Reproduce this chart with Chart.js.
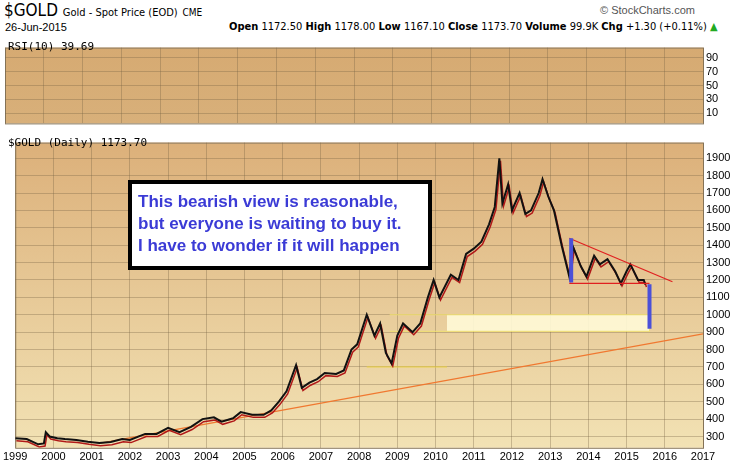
<!DOCTYPE html>
<html><head><meta charset="utf-8">
<script src="https://cdn.jsdelivr.net/npm/chart.js@4"></script>
<style>
body{margin:0;width:741px;height:467px;background:#fff;font-family:"Liberation Sans",Arial,sans-serif;position:relative;overflow:hidden}
.t{position:absolute;white-space:nowrap;color:#000}
#rsi{position:absolute;left:0;top:38px}
#price{position:absolute;left:0;top:133px}
</style></head><body>
<div class="t" style="left:4px;top:0px;font-size:17px;font-family:'DejaVu Sans Condensed'">$GOLD <span style="font-size:11px">Gold - Spot Price (EOD)</span> <span style="font-size:10px">CME</span></div>
<div class="t" style="left:5px;top:21px;font-size:11px">26-Jun-2015</div>
<div class="t" style="left:600px;top:4px;font-size:11px;color:#555">© StockCharts.com</div>
<div class="t" style="left:229px;top:20px;font-size:11px;font-family:'DejaVu Sans Condensed'"><b>Open</b> 1172.50 <b>High</b> 1178.00 <b>Low</b> 1167.10 <b>Close</b> 1173.70 <b>Volume</b> 99.9K <b>Chg</b> +1.30 (+0.11%) <span style="color:#2a2">▲</span></div>
<div class="t" style="left:8px;top:40px;font-size:11px;z-index:2;font-family:'DejaVu Sans Mono'">RSI(10) 39.69</div>
<div class="t" style="left:8px;top:136px;font-size:11px;z-index:2;font-family:'DejaVu Sans Mono'">$GOLD (Daily) 1173.70</div>
<canvas id="rsi" width="741" height="95"></canvas>
<canvas id="price" width="741" height="334"></canvas>
<script>
const years = [1999,2000,2001,2002,2003,2004,2005,2006,2007,2008,2009,2010,2011,2012,2013,2014,2015,2016,2017];
const rsiTicks = [10,30,50,70,90];
const priceTicks = [300,400,500,600,700,800,900,1000,1100,1200,1300,1400,1500,1600,1700,1800,1900];
const goldDates = [1999.0,1999.3,1999.6,1999.75,1999.8,1999.9,2000.1,2000.3,2000.6,2000.9,2001.2,2001.5,2001.8,2002.0,2002.4,2002.7,2003.0,2003.3,2003.6,2003.9,2004.2,2004.4,2004.7,2004.9,2005.2,2005.5,2005.7,2005.9,2006.1,2006.35,2006.5,2006.7,2006.9,2007.1,2007.4,2007.6,2007.8,2007.95,2008.2,2008.4,2008.55,2008.7,2008.85,2009.0,2009.15,2009.4,2009.6,2009.8,2009.95,2010.1,2010.4,2010.6,2010.8,2011.0,2011.2,2011.4,2011.55,2011.67,2011.75,2011.9,2012.0,2012.2,2012.35,2012.5,2012.7,2012.8,2012.95,2013.1,2013.3,2013.5,2013.6,2013.8,2013.95,2014.15,2014.3,2014.5,2014.7,2014.85,2015.0,2015.1,2015.3,2015.45,2015.49];
const goldClose = [290,285,255,260,325,300,290,285,280,270,262,268,285,280,315,315,350,325,355,400,410,385,405,440,425,425,450,500,560,710,580,610,630,665,660,680,800,830,1000,880,950,780,720,880,950,900,950,1100,1200,1100,1230,1200,1350,1380,1420,1520,1620,1900,1640,1750,1600,1700,1580,1600,1700,1780,1680,1600,1400,1220,1390,1280,1220,1340,1290,1320,1250,1180,1250,1290,1200,1200,1174];
const trendLine = [[2001.2,260],[2017,890]];
const wedgeTop = [[2013.5,1440],[2016.2,1190]];
const wedgeBase = [[2013.5,1180],[2015.6,1180]];
const dropBar1 = [[2013.55,1440],[2013.55,1185]];
const dropBar2 = [[2015.6,1175],[2015.6,920]];
const line700 = [[2008.2,700],[2010.3,700]];
const band = [[2008.8,1000],[2015.6,1000],[2015.6,905],[2008.8,905]];
const noteLines = ['This bearish view is reasonable,','but everyone is waiting to buy it.','I have to wonder if it will happen'];

const pts = arr => arr.map(p => ({x:p[0], y:p[1]}));

function panelBg(top, bottom) {
    return {
        id:'bg',
        beforeDraw(chart) {
            const {ctx, chartArea:a} = chart;
            const g = ctx.createLinearGradient(0, a.top, 0, a.bottom);
            g.addColorStop(0, top); g.addColorStop(1, bottom);
            ctx.save(); ctx.fillStyle = g;
            ctx.fillRect(a.left, a.top, a.right-a.left, a.bottom-a.top);
            ctx.strokeStyle = '#8a7a60'; ctx.lineWidth = 1;
            ctx.strokeRect(a.left+0.5, a.top+0.5, a.right-a.left, a.bottom-a.top);
            ctx.restore();
        }
    };
}
const fitY = {afterFit(s){ s.width = 38; }};
const xScale = (show) => ({
    type:'linear', min:1999, max:2017,
    afterBuildTicks(s){ s.ticks = years.map(v => ({value:v})); },
    grid:{color:'rgba(120,100,70,0.35)', drawTicks:false},
    border:{display:false},
    ticks:{display:show, autoSkip:false, color:'#000', font:{size:11}, padding:3, maxRotation:0, callback:v => String(v)}
});
const yTicks = {color:'#000', font:{size:11}, padding:3, autoSkip:false, callback:v => String(v)};

new Chart(document.getElementById('rsi'), {
    type:'line',
    data:{datasets:[]},
    options:{
        responsive:false, animation:false, devicePixelRatio:1,
        layout:{padding:{left:5, top:0, bottom:0}},
        plugins:{legend:{display:false}, tooltip:{enabled:false}},
        scales:{
            x: xScale(false),
            y:{position:'right', min:-5, max:105, ...fitY,
               afterBuildTicks(s){ s.ticks = rsiTicks.map(v => ({value:v})); },
               grid:{color:'rgba(120,100,70,0.35)', drawTicks:false}, border:{display:false},
               ticks:yTicks}
        }
    },
    plugins:[panelBg('#d6aa72','#d8b07a')]
});

const notePlugin = {
    id:'note',
    beforeDatasetsDraw(chart) {
        const {ctx, scales:{x, y}} = chart;
        ctx.save();
        ctx.fillStyle = 'rgba(255,250,215,0.9)';
        const bx = x.getPixelForValue(2010.3), bx2 = x.getPixelForValue(2015.6);
        const by = y.getPixelForValue(1000), by2 = y.getPixelForValue(905);
        ctx.fillRect(bx, by, bx2-bx, by2-by);
        ctx.restore();
    },
    afterDatasetsDraw(chart) {
        const {ctx} = chart;
        ctx.save();
        ctx.fillStyle = '#fff'; ctx.fillRect(130, 49, 300, 86);
        ctx.strokeStyle = '#000'; ctx.lineWidth = 4; ctx.strokeRect(130, 49, 300, 86);
        ctx.fillStyle = '#3b3bd6'; ctx.font = 'bold 17px "Liberation Sans", Arial';
        noteLines.forEach((l, i) => ctx.fillText(l, 138, 74 + i*22));
        ctx.restore();
    }
};
const seg = (data, color, w) => ({data:pts(data), borderColor:color, borderWidth:w, pointRadius:0, showLine:true, fill:false});
const goldPts = goldDates.map((d,i)=>({x:d, y:goldClose[i]}));

// dataset 0 is drawn on top
new Chart(document.getElementById('price'), {
    type:'scatter',
    data:{datasets:[
        seg(dropBar1, '#4b50d8', 4),
        seg(dropBar2, '#4b50d8', 4),
        seg(wedgeTop, '#e02020', 1.2),
        seg(wedgeBase, '#e02020', 1.2),
        {data:goldPts, borderColor:'#111', borderWidth:2, pointRadius:0, showLine:true, tension:0},
        {data:goldPts.map(p=>({x:p.x+0.03, y:p.y-15})), borderColor:'#b01818', borderWidth:1.5, pointRadius:0, showLine:true, tension:0},
        seg(trendLine, '#f07830', 1.2),
        seg(line700, '#e8d040', 1),
        {data:pts(band), borderColor:'#f0e070', borderWidth:1, pointRadius:0, showLine:true, fill:false}
    ]},
    options:{
        responsive:false, animation:false, devicePixelRatio:1,
        layout:{padding:{left:5, top:0, bottom:0}},
        plugins:{legend:{display:false}, tooltip:{enabled:false}},
        scales:{
            x: xScale(true),
            y:{position:'right', min:235, max:1990, ...fitY,
               afterBuildTicks(s){ s.ticks = priceTicks.map(v => ({value:v})); },
               grid:{color:'rgba(120,100,70,0.35)', drawTicks:false}, border:{display:false},
               ticks:yTicks}
        }
    },
    plugins:[panelBg('#dcb07a','#f2e2b4'), notePlugin]
});
</script>
</body></html>
